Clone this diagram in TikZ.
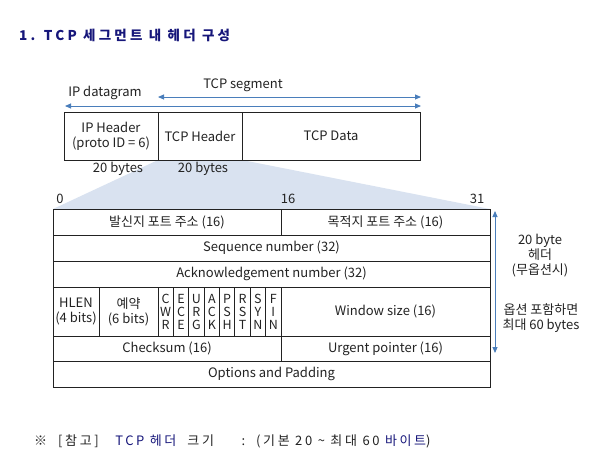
\documentclass[tikz,border=0pt]{standalone}
\usepackage{fontspec}
\setmainfont{Noto Sans CJK KR}
\usetikzlibrary{arrows.meta,backgrounds}
\definecolor{TCPInk}{HTML}{222222}
\definecolor{TCPArrow}{HTML}{4A7EBB}
\definecolor{TCPFan}{HTML}{D9E2F0}
\definecolor{TCPNavy}{HTML}{16167A}

\begin{document}
\begin{tikzpicture}[x=1pt, y=-1pt, font=\fontsize{13}{15}\selectfont, text=TCPInk,
  cell/.style={draw=TCPInk, line width=1pt, anchor=north west, inner sep=0pt, outer sep=0pt, align=center, minimum height=26pt},
  flagcell/.style={cell, minimum width=15.375pt, minimum height=49pt, font=\fontsize{12.5}{13}\selectfont},
  label/.style={inner sep=1pt, align=center},
  span/.style={{Triangle[length=6pt,width=5pt]}-{Triangle[length=6pt,width=5pt]}, draw=TCPArrow, line width=0.9pt}]
\useasboundingbox (0,0) rectangle (603,461);
\node[anchor=west, inner sep=0pt, text=TCPNavy, font=\bfseries\fontsize{13.5}{15}\selectfont\addfontfeature{LetterSpace=24}] (title) at (19,35) {1. TCP 세그먼트 내 헤더 구성};
% packet overview
\node[cell, minimum width=94pt, minimum height=48pt] (iph) at (64,112) {IP Header\\(proto ID = 6)};
\node[cell, minimum width=84pt, minimum height=48pt] (tcph) at (158,112) {TCP Header};
\node[cell, minimum width=178pt, minimum height=48pt] (tcpd) at (242,112) {TCP Data};
\coordinate (dgL) at (65,106); \coordinate (dgR) at (421,106);
\coordinate (sgL) at (158,97); \coordinate (sgR) at (421,97);
\draw[span] (dgL) -- (dgR);
\draw[span] (sgL) -- (sgR);
\node[label] (dglab) at (105,93) {IP datagram};
\node[label] (sglab) at (243,85) {TCP segment};
\node[label] (iplen) at (118,169) {20 bytes};
\node[label] (tcplen) at (203,169) {20 bytes};
% header fields
\node[label] (bit0) at (60,199) {0};
\node[label] (bit16) at (288,199) {16};
\node[label] (bit31) at (477,199) {31};
\node[cell, minimum width=228pt] (src) at (53,209) {발신지 포트 주소 (16)};
\node[cell, minimum width=209pt] (dst) at (281,209) {목적지 포트 주소 (16)};
\node[cell, minimum width=437pt] (seq) at (53,235) {Sequence number (32)};
\node[cell, minimum width=437pt] (ack) at (53,261) {Acknowledgement number (32)};
\node[cell, minimum width=46pt, minimum height=49pt] (hlen) at (53,287) {HLEN\\(4 bits)};
\node[cell, minimum width=59pt, minimum height=49pt] (rsv) at (99,287) {예약\\(6 bits)};
\foreach \a/\b/\c [count=\i from 0] in {C/W/R, E/C/E, U/R/G, A/C/K, P/S/H, R/S/T, S/Y/N, F/I/N}
  \node[flagcell] (flag\i) at (158+\i*15.375,287) {\a\\\b\\\c};
\node[cell, minimum width=209pt, minimum height=49pt] (win) at (281,287) {Window size (16)};
\node[cell, minimum width=228pt, minimum height=25pt] (chk) at (53,336) {Checksum (16)};
\node[cell, minimum width=209pt, minimum height=25pt] (urg) at (281,336) {Urgent pointer (16)};
\node[cell, minimum width=437pt] (opt) at (53,361) {Options and Padding};
\begin{scope}[on background layer]
\fill[TCPFan] (tcph.south west) -- (tcph.south east) -- (dst.north east) -- (src.north west) -- cycle;
\end{scope}
% header length
\coordinate (hdrT) at (495,211); \coordinate (hdrB) at (495,353);
\draw[span] (hdrT) -- (hdrB);
\node[label] (min20) at (540,256) {20 byte\\헤더\\(무옵션시)};
\node[label] (max60) at (541,318) {옵션 포함하면\\최대 60 bytes};
\node[anchor=west, inner sep=0pt, font=\fontsize{13}{15}\selectfont\addfontfeature{LetterSpace=20}] (note) at (34,441) {※\ \ [참고]\ \ \ \textcolor{TCPNavy}{TCP 헤더}\ \ 크기\ \ \ \ \ :\ \ (기본 20 \textasciitilde{} 최대 60 \textcolor{TCPNavy}{바이트})};
\end{tikzpicture}
\end{document}
